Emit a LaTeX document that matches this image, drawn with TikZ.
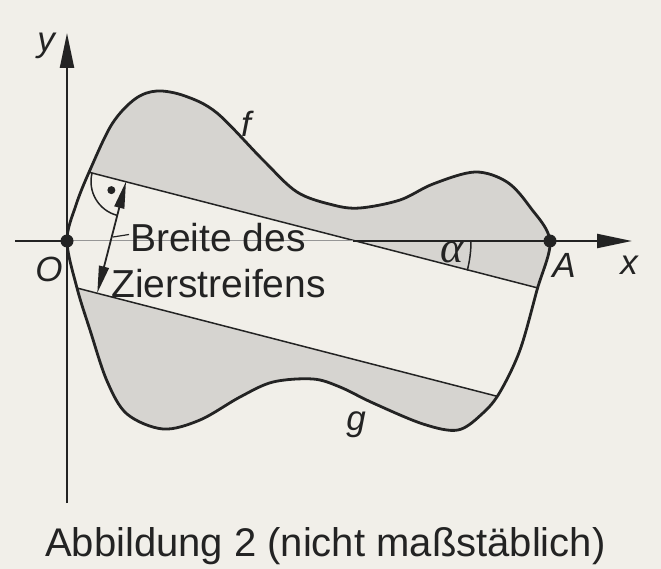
\documentclass[tikz,border=0pt]{standalone}
\usepackage{fontspec}
\setmainfont{Liberation Sans}
\newfontfamily\greekserif{Liberation Serif}
\usetikzlibrary{arrows.meta,calc}
\definecolor{paper}{RGB}{241,239,233}
\definecolor{shade}{RGB}{214,212,208}
\definecolor{ink}{RGB}{35,35,35}
\definecolor{thinaxis}{RGB}{150,150,150}
\tikzset{
  curve/.style={line width=2.8pt, draw=ink, line join=round},
  axisline/.style={line width=2.2pt, draw=ink},
  stripeline/.style={line width=1.5pt, draw=ink},
  letterlabel/.style={font=\fontsize{35}{40}\selectfont\itshape, text=ink, inner sep=0pt, anchor=base},
  txt/.style={font=\fontsize{39}{44}\selectfont, text=ink, inner sep=0pt, anchor=base west},
  captiontxt/.style={font=\fontsize{40}{46}\selectfont, text=ink, inner sep=0pt, anchor=base west},
  dotnode/.style={circle, fill=ink, inner sep=0pt, minimum size=13pt},
  bigtip/.style={-{Triangle[length=35pt,width=14pt]}},
}
\begin{document}
\begin{tikzpicture}[x=1pt,y=-1pt]
\fill[paper] (0,0) rectangle (661,569);
\useasboundingbox (0,0) rectangle (661,569);

% key points
\coordinate (O) at (67,241);
\coordinate (A) at (550,241);
\coordinate (X) at (353,241);
\coordinate (xl) at (15,241);
\coordinate (xr) at (632,241);
\coordinate (yb) at (67,503);
\coordinate (yt) at (67,33);
\coordinate (F1) at (126,181.5);
\coordinate (F2) at (97.3,292.9);
\coordinate (U1) at (40,159.6);
\coordinate (U2) at (600,304);
\coordinate (L1) at (40,278.5);
\coordinate (L2) at (600,422.8);
\coordinate (lead1) at (113,237);
\coordinate (lead2) at (129,234.5);

% outline of the region between f and g
\path[save path=\blob] plot[smooth cycle, tension=0.55] coordinates {
 (67,241) (76,205) (90,170) (112,124) (135,99) (157,91) (185,96) (217,113)
 (263,160) (297,192) (333,205) (360,208) (400,200) (433,184) (475,172)
 (507,182) (530,207) (550,241)
 (537,290) (520,350) (500,392) (483,413) (458,430) (423,424) (373,403)
 (340,387) (313,379) (273,382) (240,397) (200,420) (163,429) (127,414)
 (107,381) (90,330) (77,288)};

\path[use path=\blob, fill=shade];
\begin{scope}
  \clip[use path=\blob];
  \fill[paper] (U1) -- (U2) -- (L2) -- (L1) -- cycle;
  \draw[stripeline] (U1) -- (U2);
  \draw[stripeline] (L1) -- (L2);
\end{scope}

% axes
\draw[axisline] (xl) -- (O);
\draw[line width=1pt, draw=thinaxis] (O) -- (X);
\draw[axisline, bigtip] (X) -- (xr);
\draw[axisline, bigtip] (yb) -- (yt);

% curve
\path[use path=\blob, curve];

% angle alpha
\draw[stripeline] ($(X)+(0:118)$) arc[start angle=0, end angle=14.5, radius=118];
\node[font=\fontsize{44}{48}\selectfont\greekserif\itshape, text=ink, inner sep=0pt] (alpha) at (452,252) {α};

% right angle mark
\draw[stripeline] ($(F1)+(194.5:35)$) arc[start angle=194.5, end angle=104.5, radius=35];
\node[circle, fill=ink, inner sep=0pt, minimum size=8pt] (rdot) at ($(F1)+(149.5:17)$) {};

% width arrow
\draw[line width=1.8pt, draw=ink, {Triangle[length=27pt,width=10pt]}-{Triangle[length=27pt,width=10pt]}] (F1) -- (F2);
\draw[line width=1.2pt, draw=ink] (lead1) -- (lead2);

% points
\node[dotnode] (Odot) at (O) {};
\node[dotnode] (Adot) at (A) {};

% labels
\node[letterlabel] (ylab) at (46,52) {y};
\node[letterlabel] (flab) at (246,137) {f};
\node[letterlabel] (glab) at (356,430) {g};
\node[letterlabel] (Olab) at (49,282) {O};
\node[letterlabel] (Alab) at (564,277) {A};
\node[letterlabel] (xlab) at (629,275) {x};

\node[txt] (t1) at (130,252) {Breite des};
\node[txt] (t2) at (111,298) {Zierstreifens};
\node[captiontxt] (cap) at (45,556) {Abbildung 2 (nicht maßstäblich)};
\end{tikzpicture}
\end{document}
